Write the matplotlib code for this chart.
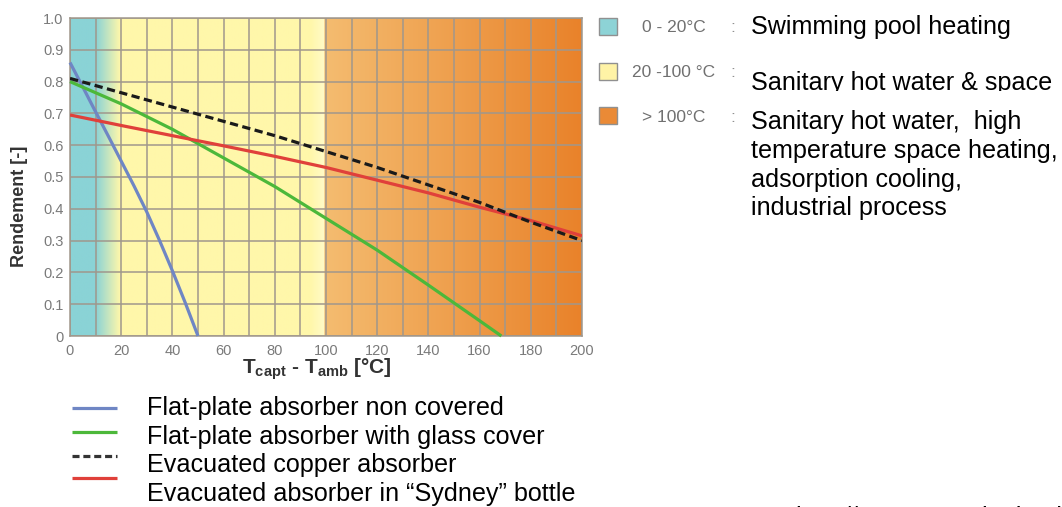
import numpy as np
import matplotlib
matplotlib.use("Agg")
import matplotlib.pyplot as plt
from matplotlib.lines import Line2D
from matplotlib.patches import Rectangle
from matplotlib.transforms import Bbox

plt.rcParams['font.family'] = ['Liberation Sans', 'DejaVu Sans']
plt.rcParams['mathtext.fontset'] = 'custom'
plt.rcParams['mathtext.rm'] = 'Liberation Sans'
plt.rcParams['mathtext.bf'] = 'Liberation Sans:bold'
plt.rcParams['mathtext.it'] = 'Liberation Sans:italic'

# ---------------- data ----------------
x_flat_uncovered = [0, 5, 10, 15, 20, 25, 30, 35, 40, 45, 50]
eta_flat_uncovered = [0.86, 0.783, 0.705, 0.628, 0.55, 0.472, 0.39, 0.30, 0.205, 0.105, 0.0]

x_flat_glass = [0, 20, 40, 60, 80, 100, 120, 140, 160, 168.5]
eta_flat_glass = [0.80, 0.73, 0.65, 0.56, 0.47, 0.37, 0.27, 0.16, 0.048, 0.0]

x_evacuated = [0, 20, 40, 60, 80, 100, 120, 140, 160, 180, 200]
eta_copper = [0.81, 0.765, 0.72, 0.675, 0.63, 0.58, 0.53, 0.475, 0.42, 0.358, 0.30]
eta_sydney = [0.695, 0.662, 0.63, 0.598, 0.565, 0.53, 0.49, 0.45, 0.405, 0.363, 0.315]

series_labels = ["Flat-plate absorber non covered",
                 "Flat-plate absorber with glass cover",
                 "Evacuated copper absorber",
                 "Evacuated absorber in \u201cSydney\u201d bottle"]

range_labels = ["0 - 20\u00b0C", "20 -100 \u00b0C", "> 100\u00b0C"]
use_labels = ["Swimming pool heating",
              "Sanitary hot water & space",
              ["Sanitary hot water,  high",
               "temperature space heating,",
               "adsorption cooling,",
               "industrial process"]]

x_ticks = list(range(0, 201, 20))
y_ticks = [0, 0.1, 0.2, 0.3, 0.4, 0.5, 0.6, 0.7, 0.8, 0.9, 1.0]
y_tick_labels = ["0", "0.1", "0.2", "0.3", "0.4", "0.5", "0.6", "0.7", "0.8", "0.9", "1.0"]

# ---------------- figure ----------------
W, H = 1062, 507
fig = plt.figure(figsize=(W / 100, H / 100), dpi=100)

def fx(px):
    return px / W

def fy(py):
    return 1 - py / H

ax_l, ax_r, ax_t, ax_b = 70, 582, 18, 336
ax = fig.add_axes([fx(ax_l), fy(ax_b), (ax_r - ax_l) / W, (ax_b - ax_t) / H])

# background gradient
xs = np.linspace(0, 200, 801)
cyan = np.array([138, 211, 214]) / 255
yellow = np.array([255, 247, 170]) / 255
paleyellow = np.array([255, 251, 200]) / 255
orange1 = np.array([244, 188, 112]) / 255
orange2 = np.array([233, 130, 42]) / 255
cols = np.zeros((len(xs), 3))
for i, x in enumerate(xs):
    if x <= 10:
        c = cyan
    elif x <= 19.5:
        t = (x - 10) / 9.5
        c = cyan * (1 - t) + yellow * t
    elif x <= 94:
        c = yellow
    elif x < 99.5:
        t = (x - 94) / 5.5
        c = yellow * (1 - t) + paleyellow * t
    else:
        t = (x - 99.5) / 100.5
        c = orange1 * (1 - t) + orange2 * t
    cols[i] = c
img = np.tile(cols[None, :, :], (2, 1, 1))
ax.imshow(img, extent=[0, 200, 0, 1], aspect='auto', interpolation='bilinear', zorder=0)

ax.set_xlim(0, 200)
ax.set_ylim(0, 1)

grid_c = '#a0978c'
ax.set_xticks(x_ticks)
ax.set_xticks(list(range(10, 200, 20)), minor=True)
ax.set_yticks(y_ticks)
ax.set_yticklabels(y_tick_labels)
ax.grid(True, which='both', color=grid_c, linewidth=1.1, zorder=1)
ax.set_axisbelow(False)
for s in ax.spines.values():
    s.set_color(grid_c)
    s.set_linewidth(1.1)
ax.tick_params(which='both', length=0, labelsize=10.5, labelcolor='#7a7a7a')
ax.tick_params(axis='y', pad=4.5)
ax.tick_params(axis='x', pad=6)

lw = 2.3
c_blue = '#6f86c4'
c_green = '#4cb83a'
c_black = '#1a1a1a'
c_red = '#e0403a'
ax.plot(x_flat_uncovered, eta_flat_uncovered, color=c_blue, lw=lw, zorder=3, clip_on=False,
        solid_capstyle='butt', solid_joinstyle='round')
ax.plot(x_flat_glass, eta_flat_glass, color=c_green, lw=lw, zorder=3, clip_on=False,
        solid_capstyle='butt', solid_joinstyle='round')
ax.plot(x_evacuated, eta_sydney, color=c_red, lw=lw, zorder=3, solid_capstyle='butt')
ax.plot(x_evacuated, eta_copper, color=c_black, lw=lw, zorder=4, dashes=(2.6, 1.4))

# axis labels
fig.text(fx(20), fy(206), "Rendement [-]", rotation=90, ha='center', va='center',
         fontsize=13, fontweight='bold', color='#333333')
fig.text(fx(317), fy(369), r"$\mathbf{T_{capt}}$ - $\mathbf{T_{amb}}$ [" + "\u00b0C]",
         ha='center', va='center', fontsize=15, fontweight='bold', color='#333333')

# right-side range legend
sq_cols = ['#8dd3d6', '#fff3a6', '#ea8a36']
sq_y = [18, 63, 107]
lab_y = [27, 72, 117]
lab_x = [642, 632, 642]
for k in range(3):
    fig.add_artist(Rectangle((fx(599), fy(sq_y[k] + 17)), 18 / W, 17 / H,
                             facecolor=sq_cols[k], edgecolor='#909090', linewidth=1.0,
                             transform=fig.transFigure))
    fig.text(fx(lab_x[k]), fy(lab_y[k]), range_labels[k], ha='left', va='center',
             fontsize=12.5, color='#707070')
    fig.text(fx(733), fy(lab_y[k]), ":", ha='center', va='center', fontsize=12.5, color='#909090')

big = 18.1
fig.text(fx(751), fy(27), use_labels[0], ha='left', va='center', fontsize=big, color='black')
t2 = fig.text(fx(751), fy(83), use_labels[1], ha='left', va='center', fontsize=big, color='black')
t2.set_clip_box(Bbox.from_extents(0, (H - 91), W, H))
t2.set_clip_on(True)
block_y = [122, 151, 180, 208]
for line, yy in zip(use_labels[2], block_y):
    fig.text(fx(751), fy(yy), line, ha='left', va='center', fontsize=big, color='black')

# bottom series legend
leg_line_y = [408, 432, 456, 478]
leg_text_y = [408, 437, 465, 494]
leg_styles = [dict(color=c_blue), dict(color=c_green),
              dict(color='#333333', dashes=(2.2, 1.2)), dict(color=c_red)]
for k in range(4):
    fig.add_artist(Line2D([fx(72), fx(117)], [fy(leg_line_y[k]), fy(leg_line_y[k])],
                          transform=fig.transFigure, lw=2.3, solid_capstyle='butt',
                          **leg_styles[k]))
    fig.text(fx(147), fy(leg_text_y[k]), series_labels[k], ha='left', va='center',
             fontsize=big, color='black')

# cut-off source text at bottom right
fig.text(fx(795), fy(506.5), "http://www.energieplus-lesite.be", ha='left', va='top',
         fontsize=big, color='black')

fig.savefig("out.png", dpi=100)
